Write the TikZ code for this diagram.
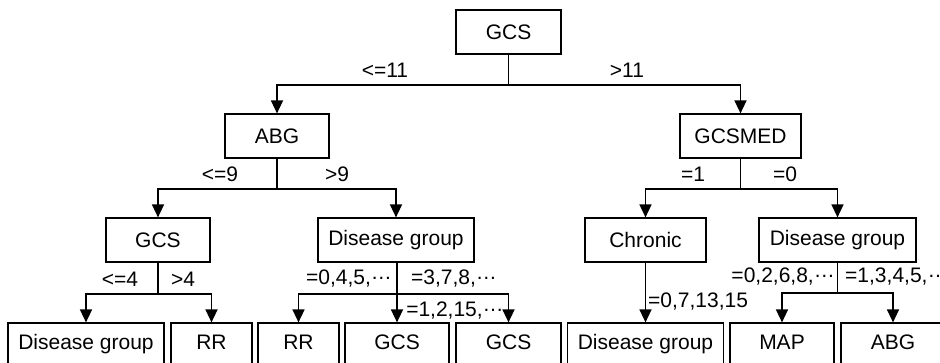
\documentclass[tikz,border=0pt]{standalone}
\usepackage{fontspec}
\setmainfont{Liberation Sans}
\usetikzlibrary{arrows.meta}
\newcommand{\mdots}{\raisebox{0.27em}{…}}
\begin{document}
\begin{tikzpicture}[x=1pt,y=-1pt,
  txt/.style={font=\fontsize{21pt}{25pt}\selectfont},
  box/.style={txt,draw,line width=1.2pt,minimum height=44pt,inner sep=0pt,anchor=center},
  leaf/.style={box,minimum height=48pt,text height=15pt,text depth=9pt},
  lbl/.style={txt,inner sep=0pt,anchor=base},
  conn/.style={line width=1.1pt},
  arr/.style={line width=1.5pt,-{Triangle[width=12pt,length=13pt]}}]
\useasboundingbox (0,0) rectangle (940,363);
% level 0
\node[box,minimum width=105pt] (gcs0) at (508.5,32) {GCS};
% level 1
\node[box,minimum width=104pt] (abg) at (277,136) {ABG};
\node[box,minimum width=121pt] (gcsmed) at (740.5,136) {GCSMED};
% level 2
\node[box,minimum width=104pt] (gcs1) at (158,240) {GCS};
\node[box,minimum width=156pt] (dg1) at (396,240) {Disease group};
\node[box,minimum width=121pt] (chronic) at (645.5,240) {Chronic};
\node[box,minimum width=157pt] (dg2) at (837.5,240) {Disease group};
% level 3
\node[leaf,minimum width=156pt] (b1) at (86,347) {Disease group};
\node[leaf,minimum width=81pt] (b2) at (211.5,347) {RR};
\node[leaf,minimum width=81pt] (b3) at (298.5,347) {RR};
\node[leaf,minimum width=104pt] (b4) at (397,347) {GCS};
\node[leaf,minimum width=105pt] (b5) at (508.5,347) {GCS};
\node[leaf,minimum width=156pt] (b6) at (645.5,347) {Disease group};
\node[leaf,minimum width=104pt] (b7) at (782,347) {MAP};
\node[leaf,minimum width=104pt] (b8) at (893,347) {ABG};
% junctions
\coordinate (j0) at (gcs0.south |- 0,85);
\coordinate (ja) at (abg.south |- 0,189);
\coordinate (jm) at (gcsmed.south |- 0,189);
\coordinate (jg) at (gcs1.south |- 0,294);
\coordinate (jd) at (b4.north |- 0,294);
\coordinate (jr) at (dg2.south |- 0,293);
% connectors
\draw[conn] (gcs0.south) -- (j0);
\draw[arr] (j0) -| (abg.north);
\draw[arr] (j0) -| (gcsmed.north);
\draw[conn] (abg.south) -- (ja);
\draw[arr] (ja) -| (gcs1.north);
\draw[arr] (ja) -| (dg1.north);
\draw[conn] (gcsmed.south) -- (jm);
\draw[arr] (jm) -| (chronic.north);
\draw[arr] (jm) -| (dg2.north);
\draw[conn] (gcs1.south) -- (jg);
\draw[arr] (jg) -| (b1.north);
\draw[arr] (jg) -| (b2.north);
\draw[arr] (dg1.south -| b4.north) -- (b4.north);
\draw[arr] (jd) -| (b3.north);
\draw[arr] (jd) -| (b5.north);
\draw[arr] (chronic.south) -- (b6.north);
\draw[conn] (dg2.south) -- (jr);
\draw[arr] (jr) -| (b7.north);
\draw[arr] (jr) -| (b8.north);
% labels
\node[lbl] (l1) at (385,78) {<=11};
\node[lbl] (l2) at (627,78) {>11};
\node[lbl] (l3) at (220,182) {<=9};
\node[lbl] (l4) at (337,182) {>9};
\node[lbl] (l5) at (693,182) {=1};
\node[lbl] (l6) at (785,182) {=0};
\node[lbl] (l7) at (120,287) {<=4};
\node[lbl] (l8) at (183,287) {>4};
\node[lbl] (l9) at (349,285) {=0,4,5,\mdots};
\node[lbl] (l10) at (454,285) {=3,7,8,\mdots};
\node[lbl] (l11) at (455,317) {=1,2,15,\mdots};
\node[lbl,anchor=base west] (l12) at (648,308) {=0,7,13,15};
\node[lbl,anchor=base east] (l13) at (835,283) {=0,2,6,8,\mdots};
\node[lbl,anchor=base west] (l14) at (845,283) {=1,3,4,5,\mdots};
\end{tikzpicture}
\end{document}
